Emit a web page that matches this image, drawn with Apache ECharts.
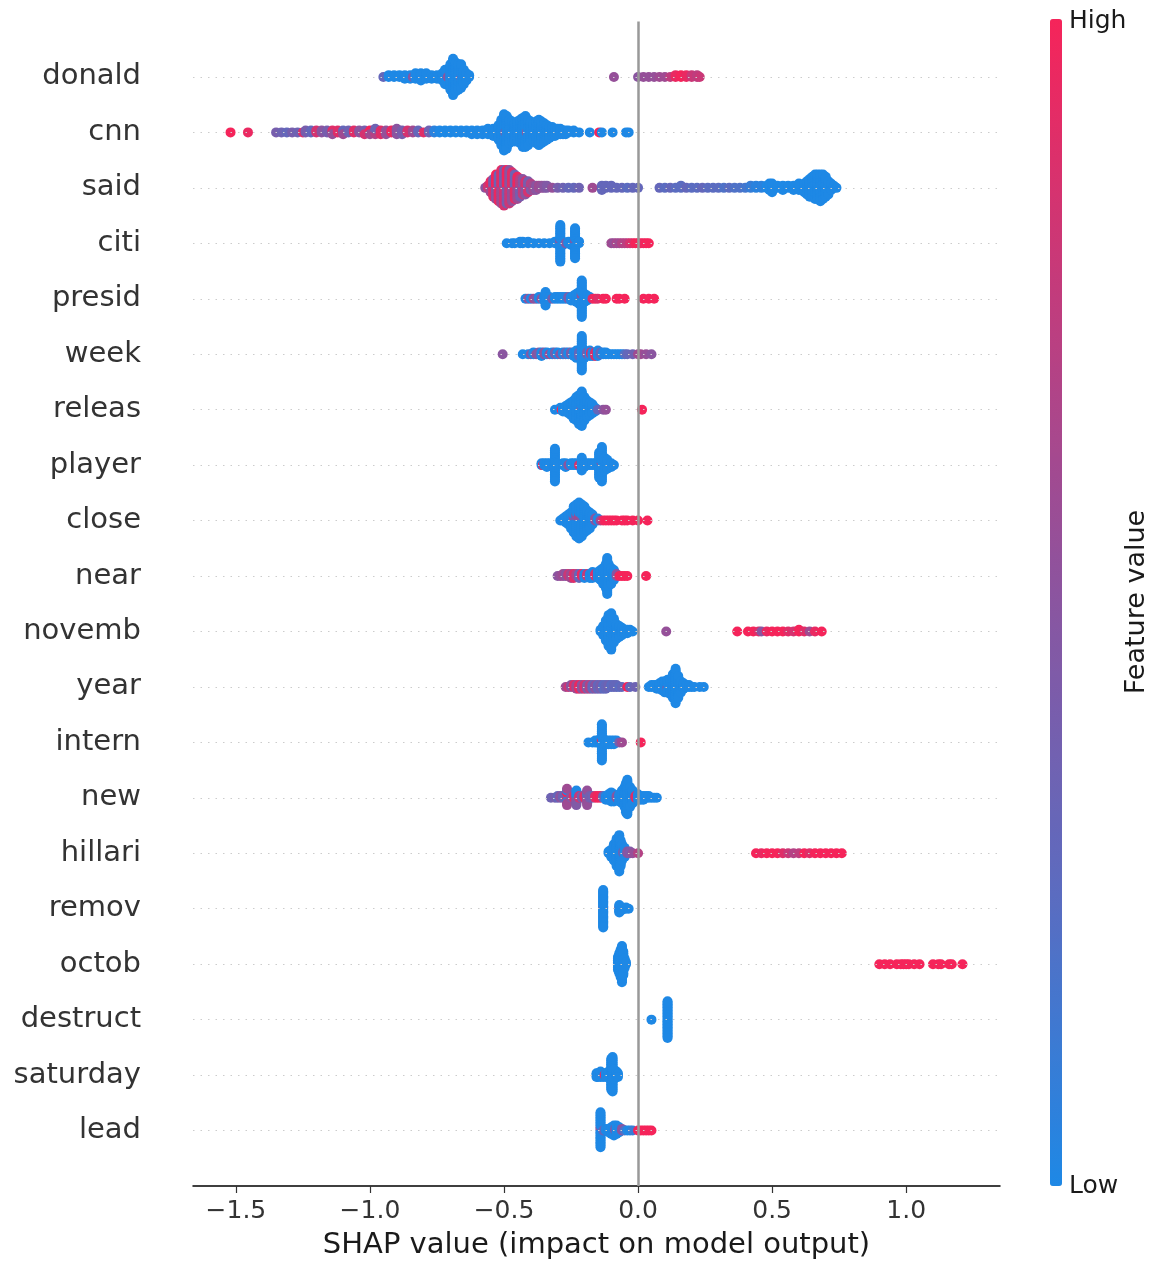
<!DOCTYPE html>
<html>
<head>
<meta charset="utf-8">
<title>SHAP summary</title>
<script src="https://cdn.jsdelivr.net/npm/echarts@6/dist/echarts.min.js"></script>
<style>
  html, body { margin: 0; padding: 0; background: #fff; }
  #chart { width: 1157px; height: 1265px; }
</style>
</head>
<body>
<div id="chart"></div>
<script>
// feature names, top to bottom
const features = ['donald', 'cnn', 'said', 'citi', 'presid', 'week', 'releas', 'player', 'close', 'near',
  'novemb', 'year', 'intern', 'new', 'hillari', 'remov', 'octob', 'destruct', 'saturday', 'lead'];

const xTicks = [-1.5, -1.0, -0.5, 0.0, 0.5, 1.0];

// each entry: [shap value, feature value (0 low .. 1 high), how many samples]
const donald = [[-0.95,0.3,1],[-0.93,0,2],[-0.91,0,2],[-0.89,0,2],[-0.87,0,3],[-0.85,0,3],[-0.84,0.5,1],[-0.83,0,4],
  [-0.81,0,5],[-0.79,0,4],[-0.77,0,3],[-0.75,0,3],[-0.73,0,5],[-0.72,0,9],[-0.71,0.5,1],[-0.70,0,15],[-0.69,0,21],
  [-0.68,0,17],[-0.67,0,15],[-0.66,0.5,2],[-0.66,0,12],[-0.65,0,9],[-0.64,0,5],[-0.63,0,2],[-0.09,0.55,1],[0.0,0.5,1],
  [0.02,0.55,1],[0.04,0.55,1],[0.06,0.55,1],[0.08,0.6,1],[0.10,0.6,1],[0.12,0.75,1],[0.14,0.95,2],[0.16,1,2],
  [0.18,0.95,2],[0.20,0.8,2],[0.22,0.75,2],[0.23,0.8,1]];
const cnn = [[-1.52,1,1],[-1.455,0.95,1],[-1.35,0.4,1],[-1.33,0.35,1],[-1.31,0.3,1],[-1.29,0.4,1],[-1.27,0.35,1],
  [-1.25,0.9,1],[-1.24,0.4,2],[-1.22,0.3,2],[-1.20,0.85,2],[-1.18,0.5,2],[-1.16,0.4,2],[-1.14,0.55,2],[-1.14,0.9,1],
  [-1.12,0.9,2],[-1.10,0.6,2],[-1.10,0.3,1],[-1.08,0.35,2],[-1.06,0.9,2],[-1.04,0.5,2],[-1.02,0.85,2],[-1.02,0.4,1],
  [-1.00,0.6,2],[-1.00,1,1],[-0.98,0.7,2],[-0.98,0.35,2],[-0.96,0.9,3],[-0.94,0.55,3],[-0.92,0.95,2],[-0.90,0.5,3],
  [-0.90,0.3,1],[-0.88,0.4,3],[-0.86,0.85,2],[-0.84,0.6,2],[-0.82,0.3,2],[-0.80,0.9,1],[-0.78,0.35,2],[-0.76,0.05,2],
  [-0.74,0,2],[-0.72,0,2],[-0.70,0,2],[-0.68,0,2],[-0.66,0,2],[-0.64,0,2],[-0.62,0,3],[-0.60,0,3],[-0.58,0,3],
  [-0.56,0,4],[-0.54,0,5],[-0.52,0,9],[-0.51,0,15],[-0.50,0,21],[-0.495,0.4,1],[-0.49,0,19],[-0.48,0,14],[-0.47,0,12],
  [-0.46,0,11],[-0.45,0,12],[-0.44,0,14],[-0.43,0,17],[-0.42,0,18],[-0.415,0.45,1],[-0.41,0,15],[-0.40,0,12],
  [-0.39,0,11],[-0.38,0,13],[-0.37,0,15],[-0.36,0,13],[-0.35,0,11],[-0.34,0,9],[-0.33,0,7],[-0.32,0,6],[-0.31,0,5],
  [-0.30,0,4],[-0.29,0,4],[-0.28,0,3],[-0.27,0,3],[-0.26,0,2],[-0.24,0,2],[-0.22,0,1],[-0.18,0,1],[-0.145,1,1],
  [-0.135,0,1],[-0.095,0,1],[-0.045,0,1],[-0.035,0,1]];
const said = [[-0.57,0.5,1],[-0.56,0.8,2],[-0.55,0.6,3],[-0.55,0.95,3],[-0.54,0.9,5],[-0.54,0.4,4],[-0.53,0.5,6],
  [-0.53,1,6],[-0.52,0.95,7],[-0.52,0.35,6],[-0.51,0.6,8],[-0.51,0.9,8],[-0.50,0.85,9],[-0.50,0.4,8],[-0.49,0.4,8],
  [-0.49,1,8],[-0.48,0.8,8],[-0.48,0.5,8],[-0.47,0.55,7],[-0.47,0.9,7],[-0.46,0.9,6],[-0.46,0.35,6],[-0.45,0.6,6],
  [-0.45,0.95,5],[-0.44,0.4,5],[-0.44,0.7,4],[-0.43,0.75,4],[-0.43,0.5,4],[-0.42,0.5,4],[-0.42,0.85,3],[-0.41,0.85,3],
  [-0.41,0.4,3],[-0.40,0.45,2],[-0.40,0.7,2],[-0.39,0.6,3],[-0.38,0.5,3],[-0.37,0.6,2],[-0.36,0.55,2],[-0.35,0.5,2],
  [-0.34,0.45,2],[-0.32,0.55,1],[-0.30,0.4,1],[-0.28,0.35,1],[-0.26,0.3,1],[-0.24,0.3,1],[-0.22,0.35,1],[-0.17,0.6,1],
  [-0.135,0.3,3],[-0.12,0.3,2],[-0.10,0.3,2],[-0.08,0.3,1],[-0.06,0.3,1],[-0.04,0.25,1],[-0.02,0.3,1],[0.0,0.3,1],
  [0.08,0.3,1],[0.10,0.25,1],[0.12,0.3,1],[0.14,0.25,1],[0.16,0.25,2],[0.18,0.3,1],[0.20,0.25,1],[0.22,0.25,1],
  [0.24,0.3,1],[0.26,0.25,1],[0.28,0.25,1],[0.30,0.25,1],[0.32,0.2,1],[0.34,0.25,1],[0.36,0.2,1],[0.38,0.2,1],
  [0.40,0.15,1],[0.42,0.1,2],[0.44,0.05,2],[0.46,0.05,2],[0.48,0,2],[0.49,0,4],[0.50,0,5],[0.52,0,2],[0.54,0,3],
  [0.56,0,2],[0.58,0,3],[0.60,0,4],[0.62,0,5],[0.63,0,7],[0.64,0,9],[0.65,0,10],[0.66,0,12],[0.67,0,12],[0.68,0,13],
  [0.69,0,12],[0.70,0,10],[0.71,0,7],[0.72,0,4],[0.73,0,2],[0.74,0,1]];
const citi = [[-0.49,0,1],[-0.47,0,1],[-0.46,0,1],[-0.44,0,2],[-0.43,0,2],[-0.41,0,2],[-0.39,0,1],[-0.37,0,1],
  [-0.35,0,1],[-0.33,0,1],[-0.31,0,2],[-0.29,0,21],[-0.29,0.5,2],[-0.28,0,3],[-0.27,0.45,1],[-0.26,0,2],[-0.25,0,3],
  [-0.24,0,3],[-0.235,0,17],[-0.235,0.5,2],[-0.22,0,2],[-0.10,0.6,1],[-0.09,0.55,1],[-0.08,0.65,1],[-0.07,0.6,1],
  [-0.06,0.7,1],[-0.05,0.7,1],[-0.04,0.75,1],[-0.03,0.85,1],[-0.02,0.9,1],[-0.01,1,1],[0.0,1,1],[0.01,1,1],
  [0.02,0.95,1],[0.03,1,1],[0.04,1,1]];
const presid = [[-0.42,0,1],[-0.41,0.5,1],[-0.40,0,1],[-0.39,0.6,1],[-0.38,0.45,1],[-0.37,0,2],[-0.36,0.5,1],
  [-0.35,0,3],[-0.345,0,9],[-0.34,0,2],[-0.33,0,2],[-0.32,0.4,1],[-0.31,0,2],[-0.30,0,2],[-0.29,0,2],[-0.28,0,2],
  [-0.27,0,2],[-0.26,0.4,2],[-0.25,0,3],[-0.24,0,4],[-0.23,0,6],[-0.22,0,8],[-0.21,0,20],[-0.21,0.5,3],[-0.20,0,6],
  [-0.19,0,4],[-0.18,0,2],[-0.17,0.9,1],[-0.16,1,1],[-0.15,0.9,1],[-0.13,1,1],[-0.12,1,1],[-0.08,1,1],[-0.07,1,1],
  [-0.05,1,1],[0.02,1,1],[0.04,1,1],[0.06,1,1]];
const week = [[-0.505,0.5,1],[-0.43,0,1],[-0.41,0,1],[-0.40,0.45,1],[-0.39,0,2],[-0.38,0.5,1],[-0.37,0.45,2],
  [-0.36,0,3],[-0.35,0.5,2],[-0.34,0,2],[-0.33,0.6,1],[-0.32,0,2],[-0.31,0.4,2],[-0.30,0,2],[-0.29,0.5,1],[-0.28,0,2],
  [-0.27,0.3,2],[-0.26,0,2],[-0.25,0.4,2],[-0.24,0,3],[-0.23,0,5],[-0.22,0.3,3],[-0.21,0,20],[-0.20,0,5],
  [-0.19,0.4,2],[-0.18,0,4],[-0.175,1,2],[-0.17,0,3],[-0.16,0.9,3],[-0.15,0,4],[-0.14,0.3,2],[-0.13,0,2],[-0.12,0,2],
  [-0.11,0,1],[-0.10,0,1],[-0.09,0,1],[-0.08,0,1],[-0.07,0,1],[-0.06,0,1],[-0.05,0.2,1],[-0.04,0.3,1],[-0.02,0.35,1],
  [0.0,0.6,1],[0.01,0.6,1],[0.03,0.55,1],[0.05,0.5,1]];
const releas = [[-0.31,0,1],[-0.29,0,2],[-0.285,1,1],[-0.28,0,3],[-0.27,0,4],[-0.26,0,6],[-0.25,0,8],[-0.24,0,11],
  [-0.23,0,14],[-0.22,0,17],[-0.21,0,19],[-0.21,0.9,1],[-0.20,0,14],[-0.19,0,10],[-0.18,0,8],[-0.17,0,6],[-0.16,0,3],
  [-0.15,0.3,1],[-0.13,0.5,1],[-0.12,0.55,1],[0.015,1,1]];
const player = [[-0.36,0,2],[-0.355,1,1],[-0.35,0,2],[-0.34,0,3],[-0.33,0,2],[-0.31,0,19],[-0.30,0,2],[-0.28,0,2],
  [-0.27,0,3],[-0.26,0.5,1],[-0.25,0,2],[-0.24,0,2],[-0.23,0,2],[-0.22,0.9,1],[-0.21,0,8],[-0.20,0,3],[-0.19,0,2],
  [-0.18,0,2],[-0.17,0,2],[-0.16,0,2],[-0.145,0,15],[-0.135,0,19],[-0.135,1,1],[-0.125,0,8],[-0.115,0,6],[-0.10,0,3],
  [-0.09,0,1]];
const close = [[-0.29,0,1],[-0.28,0,2],[-0.27,0,4],[-0.26,0,6],[-0.25,0,9],[-0.24,0,12],[-0.24,0.5,2],[-0.23,0,14],
  [-0.23,0.5,3],[-0.22,0,16],[-0.22,0.6,3],[-0.21,0,15],[-0.21,0.5,2],[-0.20,0,14],[-0.19,0,11],[-0.18,0,9],
  [-0.17,0,6],[-0.16,0.5,2],[-0.15,0,2],[-0.14,0.6,1],[-0.13,0.95,1],[-0.12,1,1],[-0.11,1,1],[-0.10,1,1],[-0.09,1,1],
  [-0.08,1,1],[-0.06,1,1],[-0.05,1,1],[-0.04,1,1],[-0.02,1,1],[0.0,1,1],[0.035,1,1]];
const near = [[-0.30,0.5,1],[-0.29,0.55,1],[-0.28,0.6,2],[-0.27,0.5,2],[-0.26,0.8,2],[-0.25,0.6,3],[-0.24,0.9,3],
  [-0.23,0.7,2],[-0.22,0.3,3],[-0.21,0.95,2],[-0.20,0,3],[-0.19,0.8,2],[-0.18,0,3],[-0.17,0,4],[-0.16,0.9,2],
  [-0.15,0,4],[-0.14,0,6],[-0.13,0,9],[-0.12,0,13],[-0.115,0,19],[-0.11,0,12],[-0.10,0,9],[-0.09,0,6],[-0.08,0.5,2],
  [-0.07,1,1],[-0.06,1,1],[-0.05,1,1],[-0.04,1,1],[0.03,1,1]];
const novemb = [[-0.14,0,2],[-0.13,0,6],[-0.12,0,12],[-0.11,0,18],[-0.10,0,21],[-0.09,0,14],[-0.08,0,9],[-0.07,0,7],
  [-0.06,0,5],[-0.05,0,3],[-0.04,0,3],[-0.03,0,2],[-0.02,0,1],[0.105,0.55,1],[0.37,1,1],[0.41,1,1],[0.43,1,1],
  [0.45,0.9,1],[0.46,0.5,1],[0.48,0.95,1],[0.50,1,1],[0.52,1,1],[0.54,1,1],[0.56,0.9,1],[0.58,0.85,1],[0.60,1,2],
  [0.62,0.9,1],[0.64,0.6,1],[0.66,0.95,1],[0.685,1,1]];
const year = [[-0.27,0.6,1],[-0.26,0.8,1],[-0.25,0.5,2],[-0.24,0.9,2],[-0.23,0.6,3],[-0.22,0.95,3],[-0.21,0.5,3],
  [-0.20,0.85,3],[-0.19,0.45,3],[-0.18,0.7,3],[-0.17,0.3,3],[-0.16,0.5,3],[-0.15,0.3,3],[-0.14,0.4,3],[-0.13,0.25,3],
  [-0.12,0.3,3],[-0.11,0.35,2],[-0.10,0.25,2],[-0.09,0.3,2],[-0.08,0.3,2],[-0.07,0.25,1],[-0.06,0.3,1],[-0.04,1,1],
  [-0.03,0.3,1],[-0.01,0.35,1],[0.04,0,1],[0.05,0,2],[0.06,0,2],[0.07,0,3],[0.08,0,4],[0.09,0,6],[0.10,0,7],
  [0.11,0.45,2],[0.11,0,6],[0.12,0,9],[0.13,0,14],[0.14,0,20],[0.15,0,13],[0.16,0,7],[0.17,0,4],[0.18,0,2],[0.19,0,2],
  [0.20,0,1],[0.21,0,1],[0.23,0,1],[0.245,0,1]];
const intern = [[-0.185,0,1],[-0.17,0,1],[-0.16,0,2],[-0.15,0,2],[-0.14,0,4],[-0.135,0,19],[-0.135,1,2],[-0.13,0,4],
  [-0.12,0,3],[-0.11,0,3],[-0.10,0,3],[-0.09,0,3],[-0.08,0,2],[-0.07,0.4,1],[-0.06,0.6,1],[0.01,1,1]];
const newF = [[-0.325,0.35,1],[-0.31,0.4,1],[-0.30,0.3,2],[-0.29,0.5,2],[-0.28,0.35,2],[-0.265,0.6,5],[-0.265,0,3],
  [-0.265,1,2],[-0.25,0.5,2],[-0.24,0.9,2],[-0.23,0.45,5],[-0.23,0,4],[-0.22,0.8,2],[-0.21,0.4,2],[-0.20,0.9,2],
  [-0.19,0.55,6],[-0.19,0.3,3],[-0.18,0.4,2],[-0.17,0.35,2],[-0.16,0.9,2],[-0.15,1,2],[-0.14,0.95,2],[-0.13,0.3,2],
  [-0.12,0,3],[-0.11,0,4],[-0.10,0,6],[-0.09,0,5],[-0.08,0.5,2],[-0.07,0,5],[-0.06,0,8],[-0.05,0,12],[-0.045,0,17],
  [-0.04,0,20],[-0.03,0,12],[-0.02,0,8],[-0.01,0.9,2],[0.0,0,4],[0.01,0,3],[0.02,0,3],[0.03,0,2],[0.04,0,2],
  [0.05,0,1],[0.06,0,1],[0.07,0,1]];
const hillari = [[-0.11,0,2],[-0.10,0,5],[-0.09,0,10],[-0.08,0,16],[-0.07,0,21],[-0.065,0,15],[-0.06,0,10],
  [-0.055,0.45,2],[-0.05,0,6],[-0.04,0.5,2],[-0.03,0.45,2],[-0.02,0.55,1],[0.0,0.7,1],[0.44,1,1],[0.46,0.95,1],
  [0.48,1,1],[0.50,1,1],[0.52,1,1],[0.54,0.9,1],[0.56,0.8,1],[0.58,0.7,1],[0.60,0.75,1],[0.62,1,1],[0.64,0.9,1],
  [0.66,1,1],[0.68,1,1],[0.70,1,1],[0.72,1,1],[0.74,1,1],[0.76,1,1]];
const remov = [[-0.13,0,30],[-0.13,0.8,1],[-0.07,0,6],[-0.07,0.7,1],[-0.06,0,3],[-0.045,0,2],[-0.035,0,1]];
const octob = [[-0.075,0,8],[-0.07,0,12],[-0.065,0,16],[-0.06,0,21],[-0.055,0,14],[-0.05,0,6],[-0.045,0,2],
  [0.90,1,1],[0.92,1,1],[0.94,1,1],[0.965,1,1],[0.98,1,1],[0.99,1,1],[1.00,1,1],[1.01,1,1],[1.03,1,1],[1.05,1,1],
  [1.10,1,1],[1.12,1,1],[1.13,1,1],[1.16,1,1],[1.17,1,1],[1.21,1,1]];
const destruct = [[0.05,0,1],[0.11,0,25]];
const saturday = [[-0.155,0,3],[-0.15,0,3],[-0.14,0,4],[-0.13,0,3],[-0.125,0.9,1],[-0.12,0,3],[-0.11,0,4],
  [-0.10,0,18],[-0.095,0,20],[-0.09,0,6],[-0.08,0,4],[-0.075,0,3]];
const lead = [[-0.14,0,20],[-0.14,0.5,2],[-0.13,0.3,1],[-0.12,0,2],[-0.11,0,3],[-0.10,0,5],[-0.09,0,7],
  [-0.085,0.5,2],[-0.08,0,6],[-0.07,0,4],[-0.06,0.5,2],[-0.05,0.2,1],[-0.04,0,1],[-0.03,0,1],[-0.02,0.1,1],
  [0.0,1,1],[0.01,1,1],[0.02,1,1],[0.03,1,1],[0.04,1,1],[0.05,1,1]];

const featureRows = [donald, cnn, said, citi, presid, week, releas, player, close, near,
  novemb, year, intern, newF, hillari, remov, octob, destruct, saturday, lead];

// beeswarm: samples sharing a shap value stack alternately up / down
function swarm(entries, rowPos) {
  const bins = new Map();
  entries.forEach(e => {
    const key = e[0].toFixed(3);
    if (!bins.has(key)) bins.set(key, []);
    bins.get(key).push(e);
  });
  const pts = [];
  let maxOff = 0;
  [...bins.values()].sort((a, b) => a[0][0] - b[0][0]).forEach(list => {
    const rem = list.map(e => e[2]);
    const vals = [];
    while (rem.some(c => c > 0)) {
      list.forEach((e, k) => { if (rem[k] > 0) { vals.push(e[1]); rem[k]--; } });
    }
    vals.forEach((v, i) => {
      const off = Math.ceil(i / 2) * (i % 2 ? 1 : -1);
      if (off > maxOff) maxOff = off;
      pts.push([list[0][0], off, v]);
    });
  });
  const k = 0.36 / (maxOff + 1);
  return pts.map(p => [p[0], rowPos + p[1] * k, p[2]]);
}

const n = features.length;
let points = [];
featureRows.forEach((rows, i) => {
  points = points.concat(swarm(rows, n - 1 - i));
});

const font = 'DejaVu Sans';
const myChart = echarts.init(document.getElementById('chart'));

const option = {
  animation: false,
  backgroundColor: '#fff',
  grid: { left: 193, right: 157, top: 21.5, bottom: 78.5 },
  xAxis: {
    type: 'value',
    min: -1.66,
    max: 1.35,
    name: 'SHAP value (impact on model output)',
    nameLocation: 'middle',
    nameGap: 45,
    nameTextStyle: { fontFamily: font, fontSize: 29, color: '#1a1a1a' },
    axisLine: { show: true, onZero: false, lineStyle: { color: '#000', width: 1.5 } },
    axisTick: { show: true, customValues: xTicks, length: 7, lineStyle: { color: '#333', width: 1.2 } },
    axisLabel: {
      customValues: xTicks,
      margin: 13,
      fontFamily: font,
      fontSize: 25,
      color: '#333',
      formatter: v => (v < 0 ? '\u2212' : '') + Math.abs(v).toFixed(1)
    },
    splitLine: { show: false }
  },
  yAxis: {
    type: 'value',
    min: -1,
    max: n,
    axisLine: { show: false },
    axisTick: { show: false },
    splitLine: { show: false },
    axisLabel: {
      customValues: features.map((f, i) => i),
      margin: 52,
      fontFamily: font,
      fontSize: 29,
      color: '#333',
      formatter: v => features[n - 1 - v]
    }
  },
  visualMap: {
    type: 'continuous',
    min: 0,
    max: 1,
    dimension: 2,
    seriesIndex: 1,
    left: 1050,
    top: 19,
    padding: 0,
    itemWidth: 12,
    itemHeight: 1167,
    calculable: false,
    hoverLink: false,
    text: ['', ''],
    inRange: { color: ['#1E88E5', '#5B6CC0', '#8A55A0', '#BF3D7E', '#F5245A'] }
  },
  graphic: [
    { type: 'text', left: 1069, top: 9, style: { text: 'High', font: '25px "DejaVu Sans"', fill: '#1a1a1a' } },
    { type: 'text', left: 1069, top: 1174, style: { text: 'Low', font: '25px "DejaVu Sans"', fill: '#1a1a1a' } },
    {
      type: 'text', x: 1137, y: 602, rotation: Math.PI / 2,
      style: { text: 'Feature value', font: '27px "DejaVu Sans"', fill: '#1a1a1a', align: 'center', verticalAlign: 'middle' }
    }
  ],
  series: [
    {
      type: 'line',
      data: [],
      z: 1,
      silent: true,
      markLine: {
        silent: true,
        symbol: 'none',
        label: { show: false },
        lineStyle: { color: '#cccccc', width: 1, type: [1.5, 6] },
        data: features.map((f, i) => ({ yAxis: i })).concat([
          { xAxis: 0, lineStyle: { color: '#999999', width: 2.5, type: 'solid' } }
        ])
      }
    },
    {
      type: 'scatter',
      z: 3,
      large: false,
      symbolSize: 10,
      itemStyle: { opacity: 1 },
      data: points
    }
  ]
};

myChart.setOption(option);
</script>
</body>
</html>
